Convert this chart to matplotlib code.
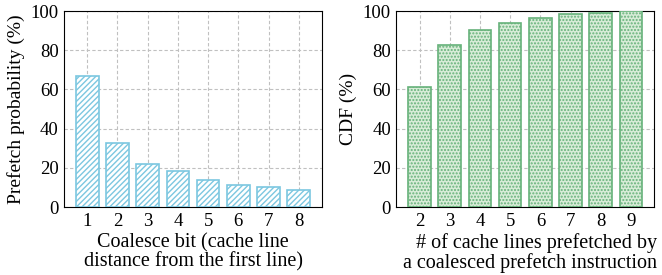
import matplotlib.pyplot as plt

# left panel: prefetch probability per coalesce bit
coalesce_bits = [1, 2, 3, 4, 5, 6, 7, 8]
prefetch_prob = [67.1, 32.5, 22.2, 18.6, 13.7, 11.2, 10.0, 8.6]

# right panel: CDF of cache lines per coalesced prefetch
num_lines = [2, 3, 4, 5, 6, 7, 8, 9]
cdf = [61.4, 82.5, 90.5, 93.9, 96.6, 98.3, 99.2, 100.0]

plt.rcParams['font.family'] = ['Liberation Serif', 'DejaVu Serif']
plt.rcParams['hatch.linewidth'] = 1.0

fig, (ax1, ax2) = plt.subplots(1, 2, figsize=(6.62, 2.75), dpi=100)

plt.rcParams['hatch.color'] = '#7cc7e0'
ax1.bar(coalesce_bits, prefetch_prob, width=0.75, facecolor='white',
        edgecolor='#7cc7e0', hatch='//////', linewidth=1.2, zorder=3)
ax1.set_ylim(0, 100)
ax1.set_xticks(coalesce_bits)
ax1.set_yticks([0, 20, 40, 60, 80, 100])
ax1.set_ylabel("Prefetch probability (%)", fontsize=14)
ax1.set_xlabel("Coalesce bit (cache line\ndistance from the first line)", fontsize=14.5, linespacing=0.95)

ax2.bar(num_lines, cdf, width=0.75, facecolor='#d8ecd8',
        edgecolor='#66b27a', hatch='.....', linewidth=1.2, zorder=3)
ax2.set_ylim(0, 100)
ax2.set_xticks(num_lines)
ax2.set_yticks([0, 20, 40, 60, 80, 100])
ax2.set_ylabel("CDF (%)", fontsize=14)
ax2.set_xlabel("# of cache lines prefetched by\na coalesced prefetch instruction", fontsize=14.5,
               linespacing=0.95, ha='right', multialignment='right')

for ax in (ax1, ax2):
    ax.grid(True, linestyle=(0, (3, 2)), color='#c0c0c0', linewidth=0.8, zorder=0)
    ax.set_axisbelow(True)
    ax.tick_params(length=0, labelsize=13.5, pad=4)

plt.subplots_adjust(left=0.097, right=0.988, top=0.96, bottom=0.247, wspace=0.29)

ax1.xaxis.set_label_coords(0.5, -0.135)
ax2.xaxis.set_label_coords(1.01, -0.135)

fig.savefig("out.png", dpi=100)
